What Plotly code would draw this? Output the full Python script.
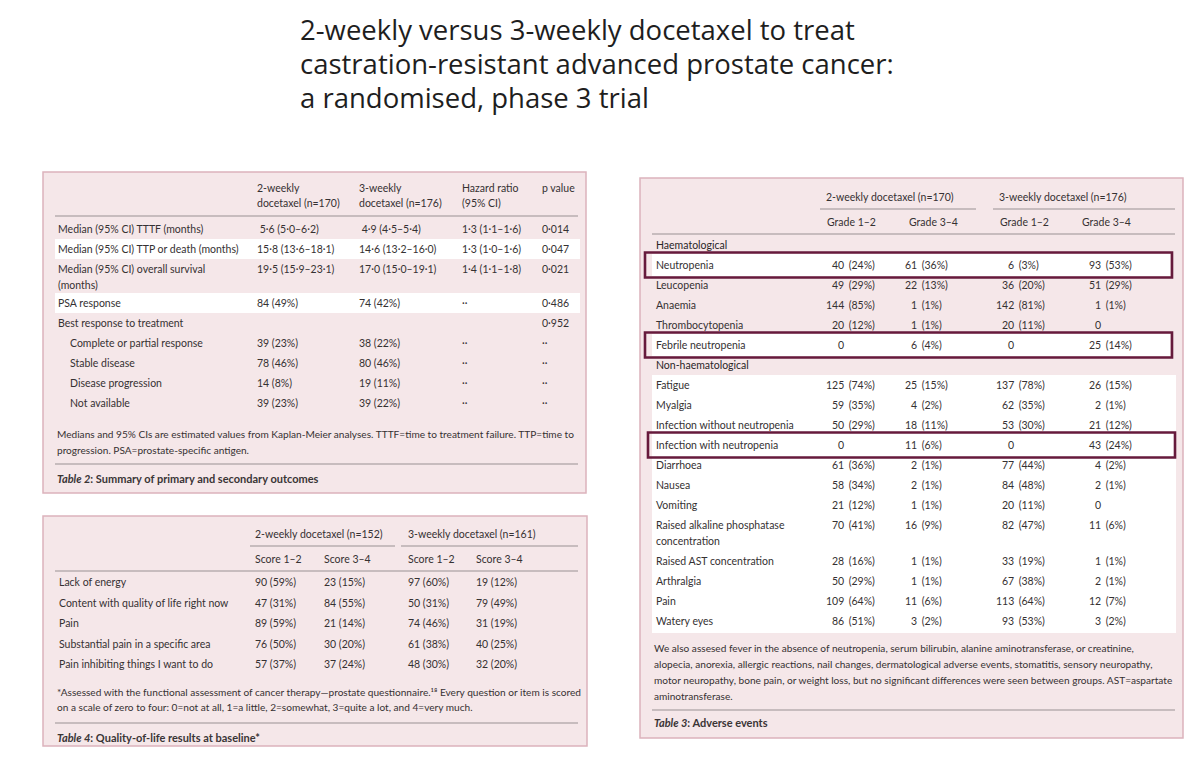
import plotly.graph_objects as go

# ---- data ----
title_lines = [
    "2-weekly versus 3-weekly docetaxel to treat",
    "castration-resistant advanced prostate cancer:",
    "a randomised, phase 3 trial",
]

# Table 2: primary and secondary outcomes
t2_headers = [["2-weekly", "docetaxel (n=170)"], ["3-weekly", "docetaxel (n=176)"],
              ["Hazard ratio", "(95% CI)"], ["p value"]]
t2_labels = ["Median (95% CI) TTTF (months)", "Median (95% CI) TTP or death (months)",
             "Median (95% CI) overall survival\n(months)", "PSA response",
             "Best response to treatment", "Complete or partial response",
             "Stable disease", "Disease progression", "Not available"]
t2_sub = [False, False, False, False, False, True, True, True, True]
t2_two_weekly = [" 5·6 (5·0–6·2)", "15·8 (13·6–18·1)", "19·5 (15·9–23·1)", "84 (49%)", "",
                 "39 (23%)", "78 (46%)", "14 (8%)", "39 (23%)"]
t2_three_weekly = [" 4·9 (4·5–5·4)", "14·6 (13·2–16·0)", "17·0 (15·0–19·1)", "74 (42%)", "",
                   "38 (22%)", "80 (46%)", "19 (11%)", "39 (22%)"]
t2_hazard = ["1·3 (1·1–1·6)", "1·3 (1·0–1·6)", "1·4 (1·1–1·8)", "··", "", "··", "··", "··", "··"]
t2_p = ["0·014", "0·047", "0·021", "0·486", "0·952", "··", "··", "··", "··"]
t2_note = ["Medians and 95% CIs are estimated values from Kaplan-Meier analyses. TTTF=time to treatment failure. TTP=time to",
           "progression. PSA=prostate-specific antigen."]
t2_caption = "Summary of primary and secondary outcomes"

# Table 4: quality of life at baseline
t4_groups = ["2-weekly docetaxel (n=152)", "3-weekly docetaxel (n=161)"]
t4_scores = ["Score 1–2", "Score 3–4", "Score 1–2", "Score 3–4"]
t4_labels = ["Lack of energy", "Content with quality of life right now", "Pain",
             "Substantial pain in a specific area", "Pain inhibiting things I want to do"]
t4_2w_s12 = ["90 (59%)", "47 (31%)", "89 (59%)", "76 (50%)", "57 (37%)"]
t4_2w_s34 = ["23 (15%)", "84 (55%)", "21 (14%)", "30 (20%)", "37 (24%)"]
t4_3w_s12 = ["97 (60%)", "50 (31%)", "74 (46%)", "61 (38%)", "48 (30%)"]
t4_3w_s34 = ["19 (12%)", "79 (49%)", "31 (19%)", "40 (25%)", "32 (20%)"]
t4_note = ["*Assessed with the functional assessment of cancer therapy—prostate questionnaire.¹⁸ Every question or item is scored",
           "on a scale of zero to four: 0=not at all, 1=a little, 2=somewhat, 3=quite a lot, and 4=very much."]
t4_caption = "Quality-of-life results at baseline*"

# Table 3: adverse events
t3_groups = ["2-weekly docetaxel (n=170)", "3-weekly docetaxel (n=176)"]
t3_grades = ["Grade 1–2", "Grade 3–4", "Grade 1–2", "Grade 3–4"]
t3_sections = {0: "Haematological", 5: "Non-haematological"}
t3_labels = ["Neutropenia", "Leucopenia", "Anaemia", "Thrombocytopenia", "Febrile neutropenia",
             "Fatigue", "Myalgia", "Infection without neutropenia", "Infection with neutropenia",
             "Diarrhoea", "Nausea", "Vomiting", "Raised alkaline phosphatase\nconcentration",
             "Raised AST concentration", "Arthralgia", "Pain", "Watery eyes"]
t3_2w_g12 = ["40 (24%)", "49 (29%)", "144 (85%)", "20 (12%)", "0", "125 (74%)", "59 (35%)",
             "50 (29%)", "0", "61 (36%)", "58 (34%)", "21 (12%)", "70 (41%)", "28 (16%)",
             "50 (29%)", "109 (64%)", "86 (51%)"]
t3_2w_g34 = ["61 (36%)", "22 (13%)", "1 (1%)", "1 (1%)", "6 (4%)", "25 (15%)", "4 (2%)",
             "18 (11%)", "11 (6%)", "2 (1%)", "2 (1%)", "1 (1%)", "16 (9%)", "1 (1%)",
             "1 (1%)", "11 (6%)", "3 (2%)"]
t3_3w_g12 = ["6 (3%)", "36 (20%)", "142 (81%)", "20 (11%)", "0", "137 (78%)", "62 (35%)",
             "53 (30%)", "0", "77 (44%)", "84 (48%)", "20 (11%)", "82 (47%)", "33 (19%)",
             "67 (38%)", "113 (64%)", "93 (53%)"]
t3_3w_g34 = ["93 (53%)", "51 (29%)", "1 (1%)", "0", "25 (14%)", "26 (15%)", "2 (1%)",
             "21 (12%)", "43 (24%)", "4 (2%)", "2 (1%)", "0", "11 (6%)", "1 (1%)",
             "2 (1%)", "12 (7%)", "3 (2%)"]
t3_highlight = ["Neutropenia", "Febrile neutropenia", "Infection with neutropenia"]
t3_note = ["We also assesed fever in the absence of neutropenia, serum bilirubin, alanine aminotransferase, or creatinine,",
           "alopecia, anorexia, allergic reactions, nail changes, dermatological adverse events, stomatitis, sensory neuropathy,",
           "motor neuropathy, bone pain, or weight loss, but no significant differences were seen between groups. AST=aspartate",
           "aminotransferase."]
t3_caption = "Adverse events"

# ---- styling ----
BODY = "Lato, 'Open Sans', sans-serif"
TXT = "#353132"
PINK = "#f5e7e9"
EDGE = "#dcb3bc"
RULE = "#9a9294"
MAROON = "#661a3c"
ROW_H = 20
LINE_H = 16
BODY_SIZE = 10.5
NOTE_SIZE = 10.1

annotations = []
shapes = []


def text(x, y, s, size=BODY_SIZE, color=TXT, anchor="left", family=BODY):
    annotations.append(dict(x=x, y=y, xref="x", yref="y", text=s, showarrow=False,
                            xanchor=anchor, yanchor="middle",
                            font=dict(size=size, color=color, family=family)))


def rect(x0, y0, x1, y1, fill="rgba(0,0,0,0)", line="rgba(0,0,0,0)", width=0):
    shapes.append(dict(type="rect", xref="x", yref="y", x0=x0, y0=y0, x1=x1, y1=y1,
                       fillcolor=fill, line=dict(color=line, width=width), layer="below"))


def rule(x0, x1, y, color=RULE, width=1.2, layer="below"):
    shapes.append(dict(type="line", xref="x", yref="y", x0=x0, x1=x1, y0=y, y1=y,
                       line=dict(color=color, width=width), layer=layer))


def caption(x, y, num, s):
    text(x, y, f"<b><i>Table {num}</i>: {s}</b>", size=11, color="#3a3536")


def count_pct(xr, y, s):
    # count right-aligned, percentage left-aligned, like the journal layout
    parts = s.split(" ", 1)
    text(xr, y, parts[0], anchor="right")
    if len(parts) > 1:
        text(xr - 2, y, " " + parts[1])


# ---- title ----
for i, ln in enumerate(title_lines):
    text(298, 29 + i * 34, ln, size=27.5, color="#1e1e1e", family="'Open Sans', sans-serif")

# ---- Table 2 ----
rect(43, 172, 586, 493, fill=PINK, line=EDGE, width=1.5)
t2_cols = [255, 357, 460, 540]
for cx, hdr in zip(t2_cols, t2_headers):
    for k, h in enumerate(hdr):
        text(cx, 188 + k * 15, h)
rule(55, 578, 216)
y = 229
for i, lab in enumerate(t2_labels):
    lines = lab.split("\n")
    if i in (1, 3):
        rect(55, y - 10, 580, y + 10 + LINE_H * (len(lines) - 1), fill="white")
    for k, ln in enumerate(lines):
        text(68 if t2_sub[i] else 56, y + k * LINE_H, ln)
    for cx, col in zip(t2_cols, [t2_two_weekly, t2_three_weekly, t2_hazard, t2_p]):
        if col[i]:
            text(cx, y, col[i])
    y += ROW_H + LINE_H * (len(lines) - 1) - (2 if len(lines) > 1 else 0)
for k, ln in enumerate(t2_note):
    text(55, 434 + k * 16, ln, size=NOTE_SIZE)
rule(55, 578, 464)
caption(55, 478, 2, t2_caption)

# ---- Table 4 ----
rect(43, 516, 587, 746, fill=PINK, line=EDGE, width=1.5)
t4_cols = [253, 322, 406, 474]
text(253, 534, t4_groups[0])
text(406, 534, t4_groups[1])
rule(250, 395, 546)
rule(401, 578, 546)
for cx, sc in zip(t4_cols, t4_scores):
    text(cx, 559, sc)
rule(55, 578, 571)
for i, lab in enumerate(t4_labels):
    y = 582 + i * ROW_H + i * 0.5
    text(57, y, lab)
    for cx, col in zip(t4_cols, [t4_2w_s12, t4_2w_s34, t4_3w_s12, t4_3w_s34]):
        text(cx, y, col[i])
for k, ln in enumerate(t4_note):
    text(55, 692 + k * 15, ln, size=NOTE_SIZE)
rule(55, 578, 723)
caption(55, 737, 4, t4_caption)

# ---- Table 3 ----
rect(640, 178, 1183, 738, fill=PINK, line=EDGE, width=1.5)
text(824, 197, t3_groups[0])
text(997, 197, t3_groups[1])
rule(820, 976, 209)
rule(993, 1175, 209)
for cx, g in zip([825, 907, 998, 1080], t3_grades):
    text(cx, 222, g)
rule(652, 1175, 234)
t3_cols = [846, 919, 1016, 1103]
y = 245
rows = []
for i, lab in enumerate(t3_labels):
    if i in t3_sections:
        text(654, y, t3_sections[i], color="#2a2627")
        y += ROW_H
    n = len(lab.split("\n"))
    rows.append((lab, y, n))
    y += ROW_H + LINE_H * (n - 1)
# white body of the non-haematological block
first = rows[5][1]
last = rows[-1][1]
rect(652, first - 10, 1176, last + 12, fill="white")
for lab, y, n in rows:
    if lab in t3_highlight:
        rect(652, y - 11, 1170, y + 11, fill="white")
for (lab, y, n), a, b, c, d in zip(rows, t3_2w_g12, t3_2w_g34, t3_3w_g12, t3_3w_g34):
    for k, ln in enumerate(lab.split("\n")):
        text(654, y + k * LINE_H, ln)
    for cx, v in zip(t3_cols, [a, b, c, d]):
        count_pct(cx, y, v)
for lab, y, n in rows:
    if lab in t3_highlight:
        x0 = 648 if lab.startswith("Infection") else 645
        shapes.append(dict(type="rect", xref="x", yref="y", x0=x0, x1=x0 + 527,
                           y0=y - 12.5, y1=y + 12.5, fillcolor="rgba(0,0,0,0)",
                           line=dict(color=MAROON, width=2.6), layer="above"))
for k, ln in enumerate(t3_note):
    text(652, 648 + k * 16, ln, size=NOTE_SIZE)
rule(652, 1175, 710)
caption(652, 722, 3, t3_caption)

# ---- figure ----
# the page body has an 8px margin, so the axes start at 8 to keep page pixels = data units
fig = go.Figure()
fig.update_xaxes(range=[8, 1200], visible=False, fixedrange=True)
fig.update_yaxes(range=[759, 8], visible=False, fixedrange=True)
fig.update_layout(width=1192, height=751, margin=dict(l=0, r=0, t=0, b=0),
                  plot_bgcolor="white", paper_bgcolor="white", showlegend=False,
                  annotations=annotations, shapes=shapes)
fig.write_html("out.html")
